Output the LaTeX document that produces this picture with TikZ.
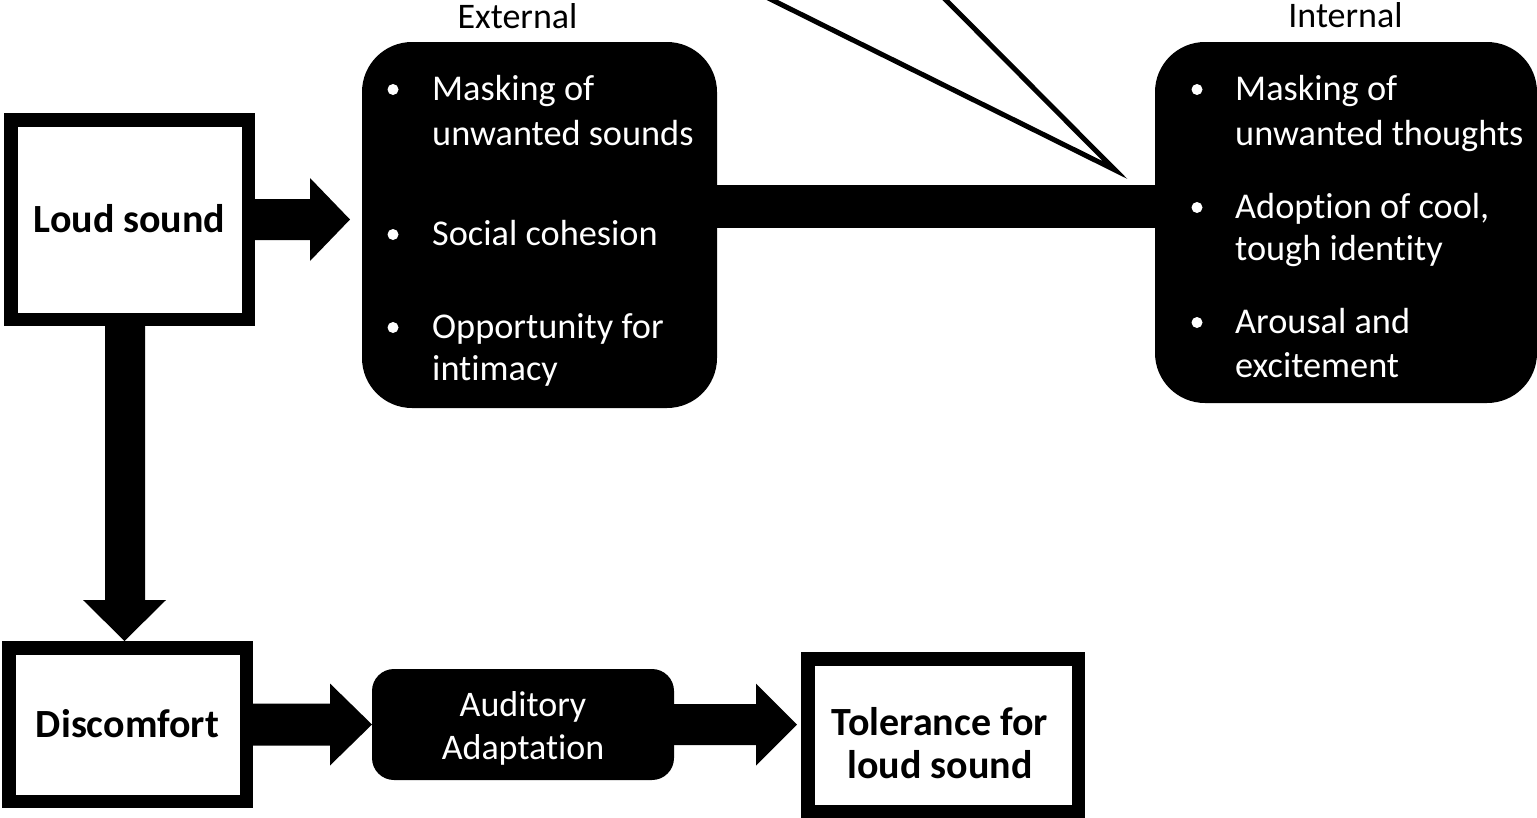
\documentclass[tikz,border=0pt]{standalone}
\usepackage{fontspec}
\setmainfont{Carlito}[Ligatures=CommonOff]
\usetikzlibrary{calc}
\begin{document}
\begin{tikzpicture}[x=1pt,y=-1pt,
  boldbox/.style={draw=black, fill=white, line width=13.5pt, inner sep=0pt,
    outer sep=6.75pt, text height=26pt, text depth=0pt,
    font=\fontsize{40}{43}\selectfont\bfseries},
  blackbox/.style={fill=black, inner sep=0pt, outer sep=0pt},
  boldtext/.style={inner sep=0pt, anchor=base, font=\fontsize{40}{43}\selectfont\bfseries},
  itemtext/.style={inner sep=0pt, anchor=base west, text=white, font=\fontsize{36.3}{44}\selectfont},
  boxtext/.style={inner sep=0pt, anchor=base, text=white, font=\fontsize{36}{44}\selectfont},
  headtext/.style={inner sep=0pt, anchor=base, font=\fontsize{36}{44}\selectfont},
  blockarrow/.style={fill=black},
  dot/.style={fill=white}]
\useasboundingbox (0,0) rectangle (1537,817);

% callout wedge reaching in from above
\begin{scope}
  \clip (0,0) rectangle (1537,817);
  \draw[line width=5pt, miter limit=10] (752,-10) -- (1115,170) -- (936,-10);
\end{scope}

% boxes
\node[boldbox, minimum width=237.5pt, minimum height=199.5pt] (loud) at (129.5,219.5) {Loud sound};
\node[boldbox, minimum width=237.5pt, minimum height=153.5pt] (disc) at (127.5,724.5) {Discomfort};
\node[boldbox, minimum width=270.5pt, minimum height=152.5pt] (tol) at (943,735) {};
\node[blackbox, rounded corners=50pt, minimum width=355pt, minimum height=366pt] (ext) at (539.5,225) {};
\node[blackbox, rounded corners=50pt, minimum width=382pt, minimum height=361pt] (int) at (1346,222.5) {};
\node[blackbox, rounded corners=22pt, minimum width=302pt, minimum height=111pt] (aud) at (523,724.5) {};

% link between the two groups of reasons
\coordinate (barhi) at (0,185);
\coordinate (barlo) at (0,228);
\fill[black] ($(ext.east |- barhi)+(-2,0)$) rectangle ($(int.west |- barlo)+(2,0)$);

% block arrows
\fill[blockarrow] (loud.east) ++(0,-20.5) -- ++(55,0) -- ++(0,-21) -- ++(40,41.5)
  -- ++(-40,41.5) -- ++(0,-21) -- ++(-55,0) -- cycle;
\fill[blockarrow] ($(loud.south)+(-24.5,0)$) -- ++(0,274) -- ++(-22,0) -- ++(41.5,41)
  -- ++(41.5,-41) -- ++(-21,0) -- ++(0,-274) -- cycle;
\fill[blockarrow] (disc.east) ++(0,-21) -- ++(77,0) -- ++(0,-20) -- ++(42,41)
  -- ++(-42,41) -- ++(0,-20) -- ++(-77,0) -- cycle;
\fill[blockarrow] (aud.east) ++(0,-20.5) -- ++(82,0) -- ++(0,-20.5) -- ++(41,41)
  -- ++(-41,41) -- ++(0,-20.5) -- ++(-82,0) -- cycle;

% headings
\node[headtext] (extlabel) at (517.5,28) {External};
\node[headtext] (intlabel) at (1345.5,27) {Internal};

% external reasons
\fill[dot] (393,89.5) circle[radius=5.5pt];
\node[itemtext] (e1a) at (432,100) {Masking of};
\node[itemtext] (e1b) at (432,145) {unwanted sounds};
\fill[dot] (393,234.5) circle[radius=5.5pt];
\node[itemtext] (e2a) at (432,245) {Social cohesion};
\fill[dot] (393,327.5) circle[radius=5.5pt];
\node[itemtext] (e3a) at (432,338) {Opportunity for};
\node[itemtext] (e3b) at (432,380) {intimacy};

% internal reasons
\fill[dot] (1197,89.5) circle[radius=5.5pt];
\node[itemtext] (i1a) at (1235,100) {Masking of};
\node[itemtext] (i1b) at (1235,145) {unwanted thoughts};
\fill[dot] (1197,207.5) circle[radius=5.5pt];
\node[itemtext] (i2a) at (1235,218) {Adoption of cool,};
\node[itemtext] (i2b) at (1235,260) {tough identity};
\fill[dot] (1197,322.5) circle[radius=5.5pt];
\node[itemtext] (i3a) at (1235,333) {Arousal and};
\node[itemtext] (i3b) at (1235,377) {excitement};

% bottom row labels
\node[boxtext] (auda) at (523,716) {Auditory};
\node[boxtext] (audb) at (523,759) {Adaptation};
\node[boldtext] (tola) at (940,735) {Tolerance for};
\node[boldtext] (tolb) at (940,778) {loud sound};
\end{tikzpicture}
\end{document}
